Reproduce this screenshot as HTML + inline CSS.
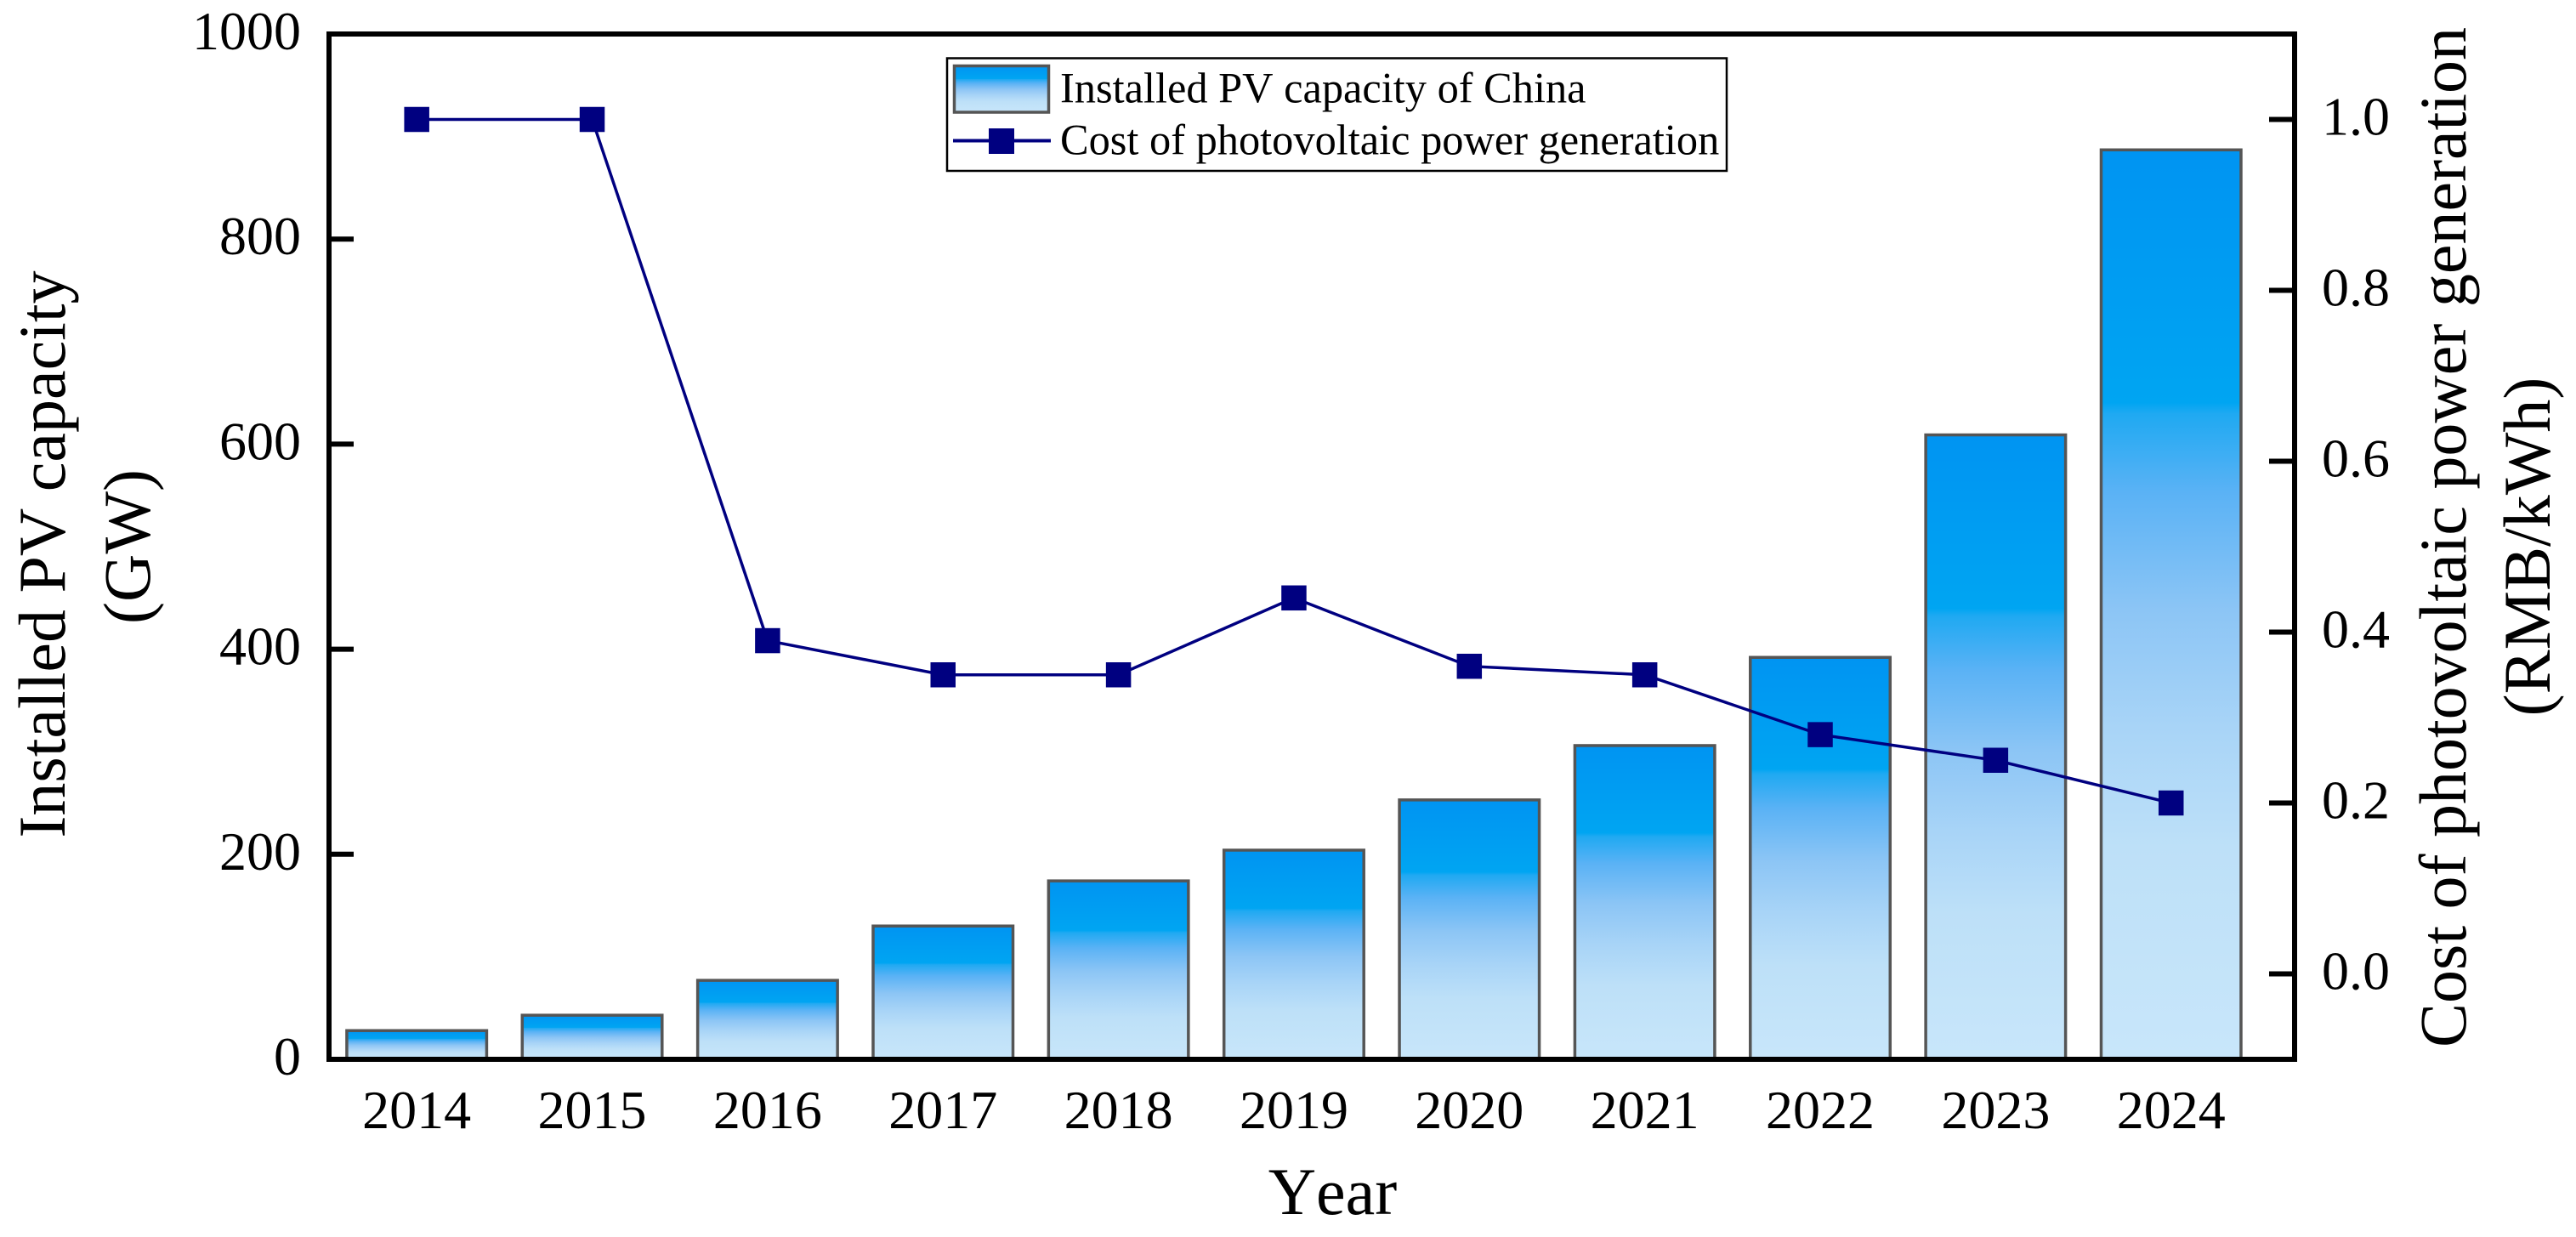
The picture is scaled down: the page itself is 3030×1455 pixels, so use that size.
<!DOCTYPE html>
<html lang="en">
<head>
<meta charset="utf-8">
<title>Installed PV capacity and cost of photovoltaic power generation in China</title>
<style>
html,body{margin:0;padding:0;background:#fff;}
svg{display:block;}
text{font-family:"Liberation Serif","Times New Roman",serif;fill:#000;font-kerning:none;}
.tick{font-size:64px;}
.title{font-size:78px;}
.legend-text{font-size:50.4px;}
</style>
</head>
<body>
<svg id="chart" xmlns="http://www.w3.org/2000/svg" width="3030" height="1455" viewBox="0 0 3030 1455">
  <defs>
    <linearGradient id="barFill" x1="0" y1="0" x2="0" y2="1">
      <stop offset="0" stop-color="#0094F2"/>
      <stop offset="0.278" stop-color="#00A5F2"/>
      <stop offset="0.29" stop-color="#1FA9F2"/>
      <stop offset="0.376" stop-color="#5AB2F5"/>
      <stop offset="0.506" stop-color="#8CC5F5"/>
      <stop offset="0.635" stop-color="#A8D4F7"/>
      <stop offset="0.766" stop-color="#BDE0F8"/>
      <stop offset="1" stop-color="#C8E6FA"/>
    </linearGradient>
  </defs>
  <rect x="0" y="0" width="3030" height="1455" fill="#fff"/>
  <g id="bars"></g>
  <g id="cost-line-layer"></g>
  <rect x="387" y="40" width="2312" height="1206" fill="none" stroke="#000" stroke-width="6"/>
  <g id="ticks"></g>

  <text class="title" x="1567.5" y="1428" text-anchor="middle">Year</text>
  <text class="title" transform="translate(76,652) rotate(-90)" text-anchor="middle">Installed PV capacity</text>
  <text class="title" transform="translate(176,643) rotate(-90)" text-anchor="middle">(GW)</text>
  <text class="title" transform="translate(2900,632) rotate(-90)" text-anchor="middle">Cost of photovoltaic power generation</text>
  <text class="title" transform="translate(2999,643) rotate(-90)" text-anchor="middle">(RMB/kWh)</text>

  <g>
    <rect x="1114" y="68.5" width="917" height="132.5" fill="#fff" stroke="#000" stroke-width="2.5"/>
    <rect x="1122.5" y="77.5" width="111" height="54.5" fill="url(#barFill)" stroke="#555" stroke-width="3.5"/>
    <text class="legend-text" x="1247" y="120.5">Installed PV capacity of China</text>
    <line x1="1121" y1="165.5" x2="1236" y2="165.5" stroke="#000080" stroke-width="4"/>
    <rect x="1163" y="151" width="30" height="30" fill="#000080"/>
    <text class="legend-text" x="1247" y="181.5">Cost of photovoltaic power generation</text>
  </g>
</svg>
<script>
const years = [2014, 2015, 2016, 2017, 2018, 2019, 2020, 2021, 2022, 2023, 2024];
const capacityGW = [28, 43, 77, 130, 174, 204, 253, 306, 392, 609, 887];
const costRMB = [1.0, 1.0, 0.39, 0.35, 0.35, 0.44, 0.36, 0.35, 0.28, 0.25, 0.20];
const leftTicks = [0, 200, 400, 600, 800, 1000];
const rightTicks = [0.0, 0.2, 0.4, 0.6, 0.8, 1.0];

const plotLeft = 387, plotRight = 2699, plotTop = 40, plotBottom = 1246;
const xDomain = [2013.5, 2024.704];
const leftDomain = [0, 1000];
const rightDomain = [-0.1, 1.1];

function xScale(year) {
  return plotLeft + (year - xDomain[0]) / (xDomain[1] - xDomain[0]) * (plotRight - plotLeft);
}
function yLeft(v) {
  return plotBottom - (v - leftDomain[0]) / (leftDomain[1] - leftDomain[0]) * (plotBottom - plotTop);
}
function yRight(v) {
  return plotBottom - (v - rightDomain[0]) / (rightDomain[1] - rightDomain[0]) * (plotBottom - plotTop);
}

const NS = 'http://www.w3.org/2000/svg';
function make(tag, props, parent) {
  const el = document.createElementNS(NS, tag);
  for (const key in props) el.setAttribute(key, props[key]);
  parent.appendChild(el);
  return el;
}

const barWidth = 164.5;
const barLayer = document.getElementById('bars');
years.forEach(function (year, i) {
  const top = yLeft(capacityGW[i]);
  const bar = make('rect', {
    x: xScale(year) - barWidth / 2,
    y: top,
    width: barWidth,
    height: plotBottom - top,
    fill: 'url(#barFill)',
    stroke: '#555',
    'stroke-width': 3.5
  }, barLayer);
  
  
});

const lineLayer = document.getElementById('cost-line-layer');
const linePoints = years.map(function (year, i) {
  return xScale(year) + ',' + yRight(costRMB[i]);
}).join(' ');
const costLine = make('polyline', {
  points: linePoints,
  fill: 'none',
  stroke: '#000080',
  'stroke-width': 3.5
}, lineLayer);



const markerSize = 29.5;
years.forEach(function (year, i) {
  const marker = make('rect', {
    x: xScale(year) - markerSize / 2,
    y: yRight(costRMB[i]) - markerSize / 2,
    width: markerSize,
    height: markerSize,
    fill: '#000080'
  }, lineLayer);
  
  
});

const tickLayer = document.getElementById('ticks');
leftTicks.forEach(function (v) {
  const y = yLeft(v);
  if (v > leftDomain[0] && v < leftDomain[1]) {
    const mark = make('line', { x1: plotLeft, y1: y, x2: plotLeft + 29, y2: y, stroke: '#000', 'stroke-width': 6 }, tickLayer);
    
    
  }
  const label = make('text', { class: 'tick', x: 354, y: y + 18, 'text-anchor': 'end' }, tickLayer);
  label.textContent = String(v);
  
  
});
rightTicks.forEach(function (v) {
  const y = yRight(v);
  const mark = make('line', { x1: plotRight, y1: y, x2: plotRight - 30, y2: y, stroke: '#000', 'stroke-width': 6 }, tickLayer);
  
  
  const label = make('text', { class: 'tick', x: 2731, y: y + 18 }, tickLayer);
  label.textContent = v.toFixed(1);
  
  
});
years.forEach(function (year) {
  const label = make('text', { class: 'tick', x: xScale(year), y: 1327, 'text-anchor': 'middle' }, tickLayer);
  label.textContent = String(year);
  
  
});
</script>
</body>
</html>
